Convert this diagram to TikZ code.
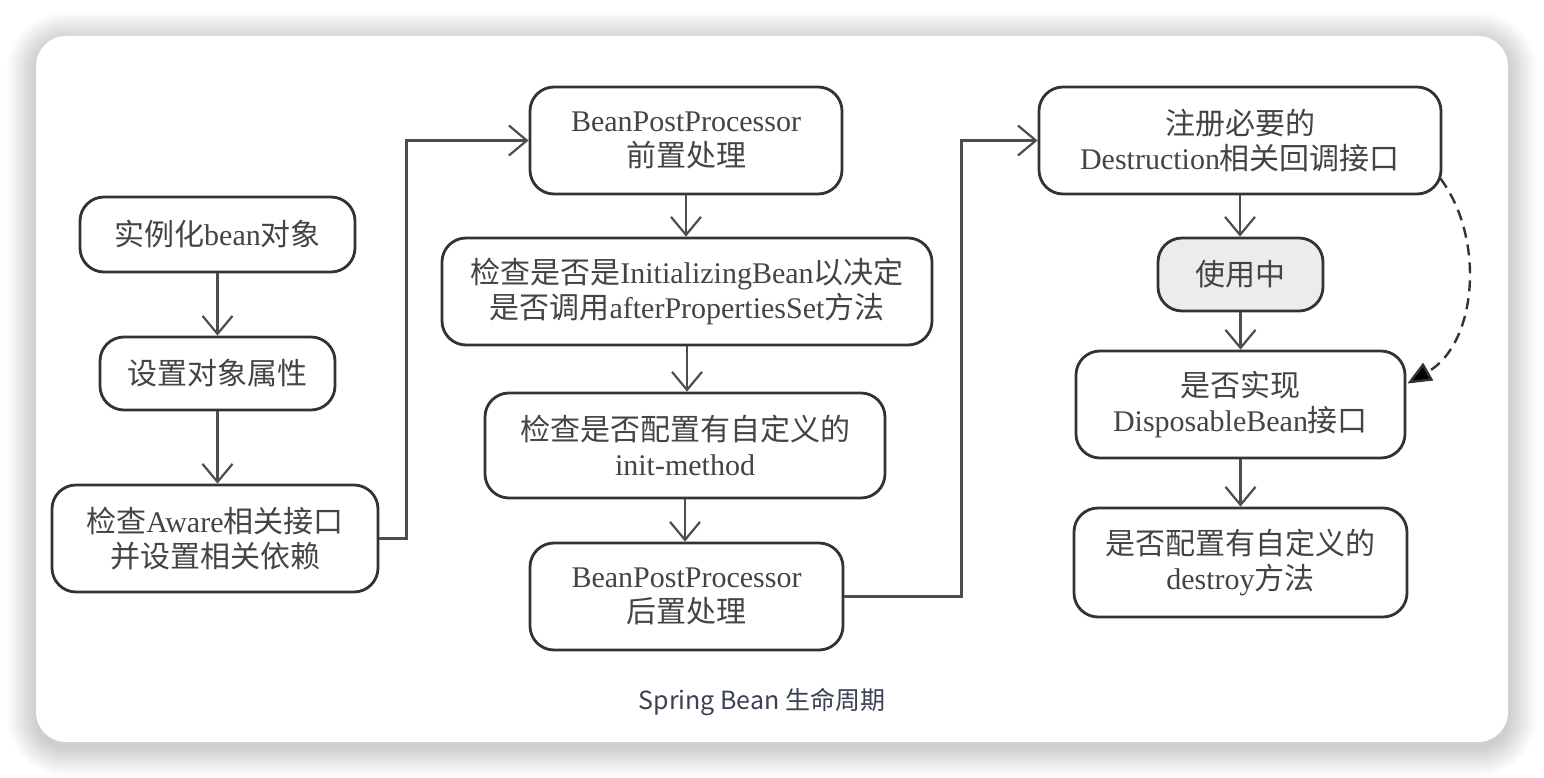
\documentclass[tikz,border=0pt]{standalone}
\usepackage{fontspec}
\setmainfont{Liberation Serif}
\newfontfamily\cjk{Noto Sans CJK SC}
\usetikzlibrary{arrows.meta,calc}
\newcommand{\zh}[1]{{\cjk #1}}
\definecolor{boxline}{HTML}{333333}
\definecolor{conn}{HTML}{4D4D4D}
\definecolor{txt}{HTML}{444444}
\definecolor{usefill}{HTML}{ECECEC}
\definecolor{captxt}{HTML}{3A4150}
\begin{document}
\begin{tikzpicture}[x=1pt,y=-1pt,
  box/.style={draw=boxline, line width=2.8pt, rounded corners=24pt, fill=white,
    text=txt, align=center, font=\fontsize{30}{35}\selectfont, inner sep=0pt},
  flow/.style={draw=conn, line width=2.2pt,
    -{Straight Barb[length=18pt,width=30pt,line width=2.2pt]}},
  dflow/.style={draw=boxline, line width=2.4pt, dash pattern=on 11pt off 7pt,
    -{Triangle[length=24pt,width=20pt,fill=black]}},
]
\useasboundingbox (0,0) rectangle (1544,778);
\fill[white] (0,0) rectangle (1544,778);
% card shadow
\foreach \i [evaluate=\i as \d using \i*1.8, evaluate=\i as \r using 30+\i*1.8] in {1,...,16}
  \fill[black, opacity=0.01, rounded corners=\r pt] (36-\d,36-\d+5) rectangle (1508+\d,742+\d+5);
% card
\fill[white, rounded corners=30pt] (36,36) rectangle (1508,742);

% left column
\node[box, minimum width=275pt, minimum height=75pt] (A) at (217.5,234.5) {\zh{实例化}bean\zh{对象}};
\node[box, minimum width=235pt, minimum height=73pt] (B) at (217.5,373.5) {\zh{设置对象属性}};
\node[box, minimum width=326pt, minimum height=107pt] (C) at (215,538.5) {\zh{检查}Aware\zh{相关接口}\\\zh{并设置相关依赖}};

% middle column
\node[box, minimum width=312pt, minimum height=107pt] (D) at (686,140.5) {BeanPostProcessor\\\zh{前置处理}};
\node[box, minimum width=490pt, minimum height=107pt] (E) at (687,291.5) {\zh{检查是否是}InitializingBean\zh{以决定}\\\zh{是否调用}afterPropertiesSet\zh{方法}};
\node[box, minimum width=400pt, minimum height=105pt] (F) at (685,445.5) {\zh{检查是否配置有自定义的}\\init-method};
\node[box, minimum width=313pt, minimum height=107pt] (G) at (686.5,596.5) {BeanPostProcessor\\\zh{后置处理}};

% right column
\node[box, minimum width=402pt, minimum height=107pt] (H) at (1240,140.5) {\zh{注册必要的}\\Destruction\zh{相关回调接口}};
\node[box, fill=usefill, minimum width=165pt, minimum height=73pt] (I) at (1240.5,274.5) {\zh{使用中}};
\node[box, minimum width=329pt, minimum height=107pt] (J) at (1240.5,404.5) {\zh{是否实现}\\DisposableBean\zh{接口}};
\node[box, minimum width=333pt, minimum height=109pt] (K) at (1240.5,562.5) {\zh{是否配置有自定义的}\\destroy\zh{方法}};

% vertical flows
\draw[flow] (A.south) -- (A.south |- B.north);
\draw[flow] (B.south) -- (B.south |- C.north);
\draw[flow] (D.south) -- (D.south |- E.north);
\draw[flow] (E.south) -- (E.south |- F.north);
\draw[flow] (F.south) -- (F.south |- G.north);
\draw[flow] (H.south) -- (H.south |- I.north);
\draw[flow] (I.south) -- (I.south |- J.north);
\draw[flow] (J.south) -- (J.south |- K.north);

% column links
\draw[flow] (C.east) -- ++(27,0) |- (D.west);
\draw[flow] (G.east) -- ++(117,0) |- (H.west);

% dashed link
\coordinate (ds) at ($(H.east)+(-2,38)$);
\coordinate (de) at ($(J.east)+(1,-21)$);
\draw[dflow] (ds) .. controls +(45,60) and +(70,-40) .. (de);

% caption
\node[font=\cjk\fontsize{25}{29}\selectfont, text=captxt] (cap) at (762,702) {Spring Bean 生命周期};
\end{tikzpicture}
\end{document}
